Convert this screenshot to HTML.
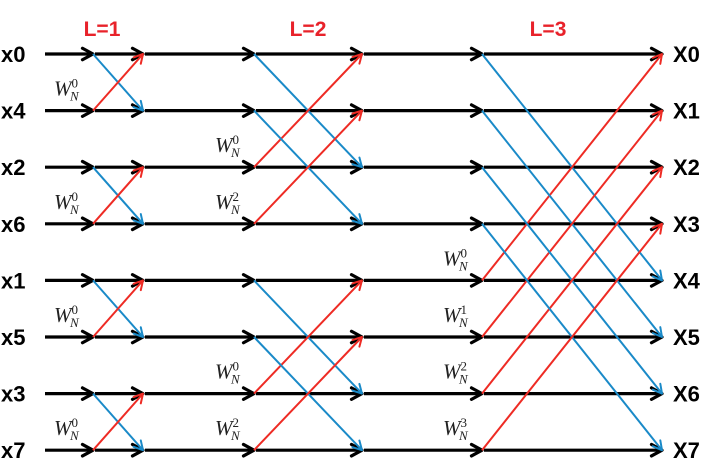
<!DOCTYPE html>
<html><head><meta charset="utf-8"><style>
html,body{margin:0;padding:0;background:#fff;width:724px;height:463px;overflow:hidden}
svg{display:block}
.lbl{font-family:"Liberation Sans",sans-serif;font-weight:bold;font-size:22px;fill:#000}
.stg{font-family:"Liberation Sans",sans-serif;font-weight:bold;font-size:21px;fill:#e8222a}
.tw{font-family:"Liberation Serif",serif;font-style:italic;fill:#222}
</style></head><body>
<svg id="fft" width="724" height="463" viewBox="0 0 724 463" xmlns="http://www.w3.org/2000/svg"></svg>
<script>
const inputLabels=["x0","x4","x2","x6","x1","x5","x3","x7"];
const outputLabels=["X0","X1","X2","X3","X4","X5","X6","X7"];
const stageNames=["L=1","L=2","L=3"];
const stageSpans=[1,2,4];
const twiddleExps=[[0],[0,2],[0,1,2,3]];
const rowY=i=>54+i*56.6;
const colX=[45,93,143,254,362,482,662];
const svg=document.getElementById('fft');
const NS='http://www.w3.org/2000/svg';
function mk(t,a){const e=document.createElementNS(NS,t);for(const k in a)e.setAttribute(k,a[k]);svg.appendChild(e);return e;}
function arrow(x1,y1,x2,y2,col,w){
  const l=mk('line',{x1,y1,x2,y2,stroke:col,'stroke-width':w});
  const ang=Math.atan2(y2-y1,x2-x1),L=w>2.5?12:10,sp=0.5;
  mk('polyline',{points:`${x2-L*Math.cos(ang-sp)},${y2-L*Math.sin(ang-sp)} ${x2},${y2} ${x2-L*Math.cos(ang+sp)},${y2-L*Math.sin(ang+sp)}`,fill:'none',stroke:col,'stroke-width':w,'stroke-linecap':'round','stroke-linejoin':'round'});
  return l;
}
for(let i=0;i<8;i++){
  const y=rowY(i);
  for(let c=0;c<colX.length-1;c++){
    const a=arrow(colX[c]+(c?2:0),y,colX[c+1],y,'#000',3.2);
    
    
  }
  const t=mk('text',{x:1,y:y+8,class:'lbl'});t.textContent=inputLabels[i];
  
  
  const o=mk('text',{x:673,y:y+8,class:'lbl'});o.textContent=outputLabels[i];
  
  
}
const stageStart=[colX[1],colX[3],colX[5]];
const stageEnd=[colX[2],colX[4],colX[6]];
const stageLabelX=[102,308,548];
for(let s=0;s<3;s++){
  const sp=stageSpans[s],x1=stageStart[s],x2=stageEnd[s];
  const st=mk('text',{x:stageLabelX[s],y:36,class:'stg','text-anchor':'middle'});st.textContent=stageNames[s];
  
  
  for(let g=0;g<8;g+=2*sp){
    for(let k=0;k<sp;k++){
      const top=g+k,bot=g+k+sp;
      const b=arrow(x1,rowY(top),x2,rowY(bot),'#1a8ac8',2);
      
      
      const r=arrow(x1,rowY(bot),x2,rowY(top),'#ee2b24',2);
      
      
      const e=twiddleExps[s][k];
      const tx=x1-39,ty=rowY(bot)-15;
      const tw=mk('text',{x:tx,y:ty,class:'tw','font-size':21});
      tw.innerHTML=`W<tspan font-size="13" dy="-8" font-style="normal">${e}</tspan><tspan font-size="13" dx="-8" dy="13">N</tspan>`;
      
      
    }
  }
}
</script>
</body></html>
